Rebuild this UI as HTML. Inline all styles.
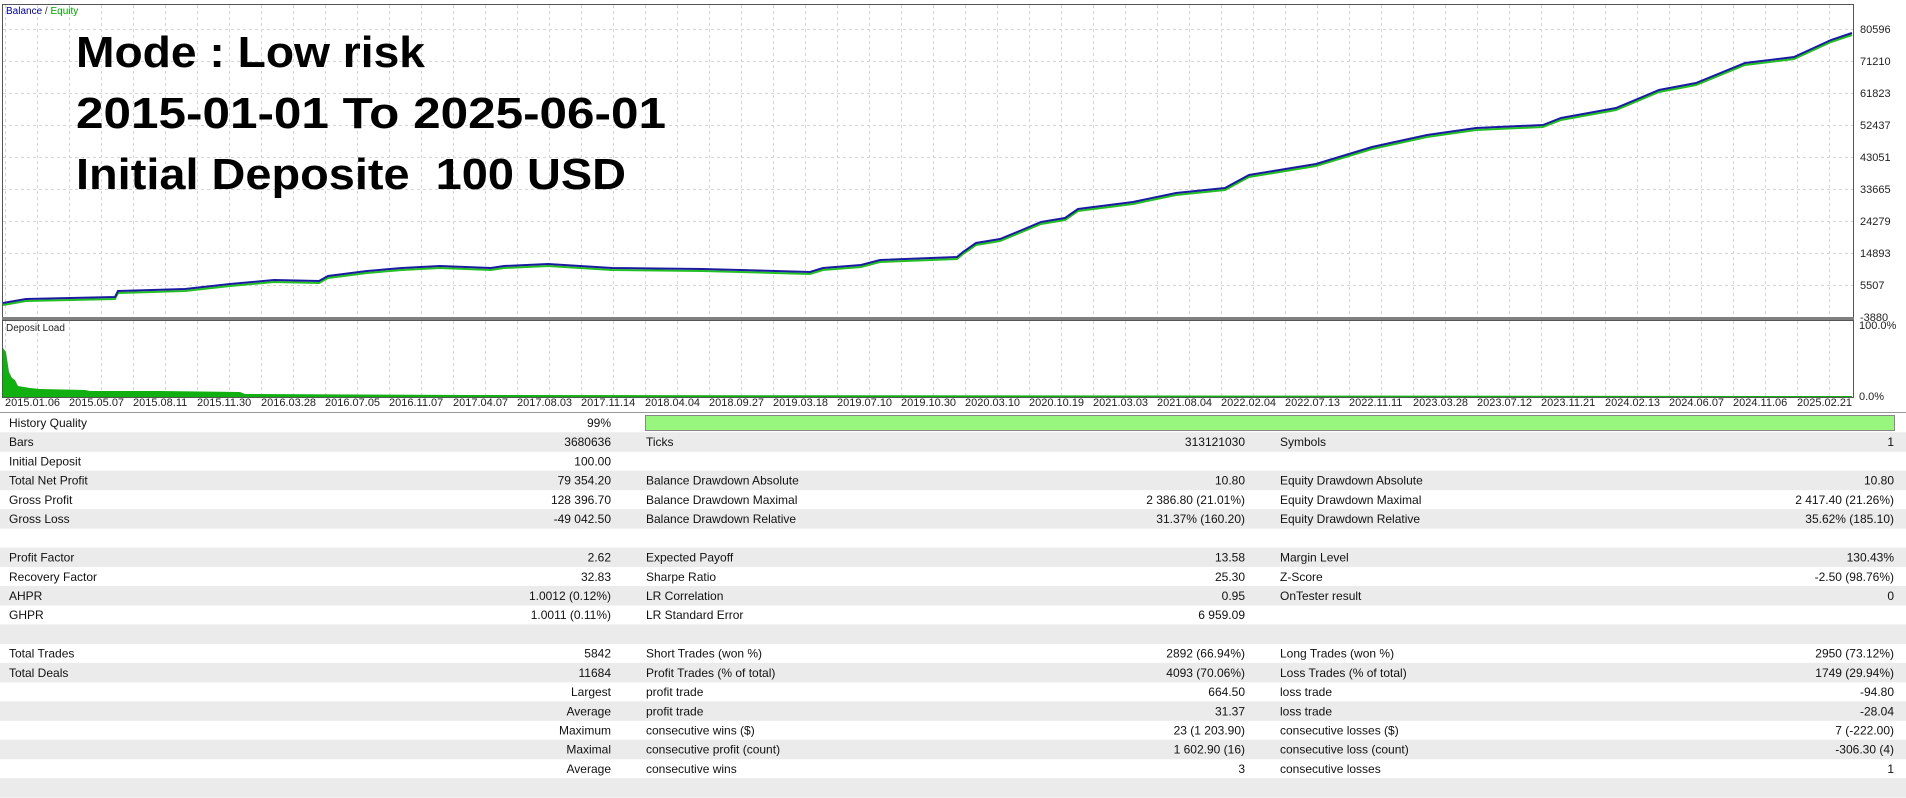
<!DOCTYPE html>
<html><head><meta charset="utf-8"><style>
body{margin:0;width:1906px;height:798px;overflow:hidden;background:#fff;font-family:"Liberation Sans",sans-serif}
svg{display:block}
</style></head><body>
<svg width="1906" height="798" viewBox="0 0 1906 798" xmlns="http://www.w3.org/2000/svg" font-family="Liberation Sans, sans-serif">
<rect width="1906" height="798" fill="#fff"/>
<g id="grid" stroke="#d4d4d4" stroke-dasharray="3,3" stroke-width="1"></g>
<rect x="2.5" y="4.5" width="1851" height="314" fill="none" stroke="#555"/>
<rect x="2.5" y="320.5" width="1851" height="77" fill="none" stroke="#555"/>
<rect x="2" y="317" width="1852" height="3" fill="#808080"/>
<text x="6" y="14" font-size="10"><tspan fill="#00008b">Balance</tspan><tspan fill="#333"> / </tspan><tspan fill="#00a000">Equity</tspan></text>
<text x="6" y="331" font-size="10" fill="#222">Deposit Load</text>
<g font-size="44" font-weight="bold" fill="#000">
<text x="76" y="67" textLength="349" lengthAdjust="spacingAndGlyphs">Mode : Low risk</text>
<text x="76" y="128" textLength="590" lengthAdjust="spacingAndGlyphs">2015-01-01 To 2025-06-01</text>
<text x="76" y="189" textLength="550" lengthAdjust="spacingAndGlyphs" xml:space="preserve">Initial Deposite  100 USD</text>
</g>
<g id="yl" font-size="11" fill="#222"></g>
<text x="1859" y="329" font-size="11" fill="#222">100.0%</text>
<text x="1859" y="400" font-size="11" fill="#222">0.0%</text>
<polyline fill="none" stroke="#22c022" stroke-width="2" points="3,305 26,301 115,299 118,293 185,291 230,286 274,282 319,283 328,278 367,273 402,270 440,268 491,270 504,268 548,266 612,270 702,271 740,272 810,274 823,270 861,267 880,262 957,259 963,254 976,245 1000,241 1022,232 1041,224 1065,220 1078,211 1133,204 1176,195 1225,190 1249,177 1316,166 1372,149 1427,137 1476,130 1543,127 1561,120 1616,110 1659,92 1696,85 1745,65 1794,59 1831,42 1852,35"/>
<polyline fill="none" stroke="#1a1aa0" stroke-width="2" points="3,303 26,299 115,297 118,291 185,289 230,284 274,280 319,281 328,276 367,271 402,268 440,266 491,268 504,266 548,264 612,268 702,269 740,270 810,272 823,268 861,265 880,260 957,257 963,252 976,243 1000,239 1022,230 1041,222 1065,218 1078,209 1133,202 1176,193 1225,188 1249,175 1316,164 1372,147 1427,135 1476,128 1543,125 1561,118 1616,108 1659,90 1696,83 1745,63 1794,57 1831,40 1852,33"/>
<path fill="#10b010" d="M3,397 L3,348 L6,352 L9,372 L12,378 L15,380 L18,386 L30,388 L40,389 L85,390 L90,391 L160,391 L240,392 L245,394 L470,395 L1852,396 L1852,397 Z"/>
<g id="dl" font-size="11" fill="#222"></g>
<line x1="0" y1="412.5" x2="1906" y2="412.5" stroke="#999"/>
<g id="tb" font-size="12" fill="#111"></g>
<rect x="645.5" y="415.5" width="1249" height="15" fill="#98f57e" stroke="#888"/>
</svg>
<script>
const NS="http://www.w3.org/2000/svg";
function el(t,a,txt,p){const e=document.createElementNS(NS,t);for(const k in a)e.setAttribute(k,a[k]);if(txt!==undefined)e.textContent=txt;document.getElementById(p).appendChild(e);return e;}
for(let x=5;x<1854;x+=32){el('line',{x1:x+.5,y1:5,x2:x+.5,y2:317},undefined,'grid');el('line',{x1:x+.5,y1:321,x2:x+.5,y2:397},undefined,'grid');}
const yv=["80596","71210","61823","52437","43051","33665","24279","14893","5507","-3880"];
yv.forEach((v,i)=>{const y=29+i*32;if(i<9)el('line',{x1:3,y1:y+.5,x2:1853,y2:y+.5},undefined,'grid');el('text',{x:1860,y:y+4},v,'yl');});
const d=["2015.01.06","2015.05.07","2015.08.11","2015.11.30","2016.03.28","2016.07.05","2016.11.07","2017.04.07","2017.08.03","2017.11.14","2018.04.04","2018.09.27","2019.03.18","2019.07.10","2019.10.30","2020.03.10","2020.10.19","2021.03.03","2021.08.04","2022.02.04","2022.07.13","2022.11.11","2023.03.28","2023.07.12","2023.11.21","2024.02.13","2024.06.07","2024.11.06","2025.02.21"];
d.forEach((s,i)=>el('text',{x:5+64*i,y:406},s,'dl'));
const rows=[
["History Quality","99%","","","",""],
["Bars","3680636","Ticks","313121030","Symbols","1"],
["Initial Deposit","100.00","","","",""],
["Total Net Profit","79 354.20","Balance Drawdown Absolute","10.80","Equity Drawdown Absolute","10.80"],
["Gross Profit","128 396.70","Balance Drawdown Maximal","2 386.80 (21.01%)","Equity Drawdown Maximal","2 417.40 (21.26%)"],
["Gross Loss","-49 042.50","Balance Drawdown Relative","31.37% (160.20)","Equity Drawdown Relative","35.62% (185.10)"],
["","","","","",""],
["Profit Factor","2.62","Expected Payoff","13.58","Margin Level","130.43%"],
["Recovery Factor","32.83","Sharpe Ratio","25.30","Z-Score","-2.50 (98.76%)"],
["AHPR","1.0012 (0.12%)","LR Correlation","0.95","OnTester result","0"],
["GHPR","1.0011 (0.11%)","LR Standard Error","6 959.09","",""],
["","","","","",""],
["Total Trades","5842","Short Trades (won %)","2892 (66.94%)","Long Trades (won %)","2950 (73.12%)"],
["Total Deals","11684","Profit Trades (% of total)","4093 (70.06%)","Loss Trades (% of total)","1749 (29.94%)"],
["@Largest","","profit trade","664.50","loss trade","-94.80"],
["@Average","","profit trade","31.37","loss trade","-28.04"],
["@Maximum","","consecutive wins ($)","23 (1 203.90)","consecutive losses ($)","7 (-222.00)"],
["@Maximal","","consecutive profit (count)","1 602.90 (16)","consecutive loss (count)","-306.30 (4)"],
["@Average","","consecutive wins","3","consecutive losses","1"],
["","","","","",""]];
const h=19.22;
rows.forEach((r,i)=>{const y=413+i*h;
 if(i%2==1)el('rect',{x:0,y:y,width:1906,height:h+0.3,fill:'#ebebeb'},undefined,'tb');
 const b=y+14;
 if(r[0].startsWith('@'))el('text',{x:611,y:b,'text-anchor':'end'},r[0].slice(1),'tb');
 else {el('text',{x:9,y:b},r[0],'tb');el('text',{x:611,y:b,'text-anchor':'end'},r[1],'tb');}
 el('text',{x:646,y:b},r[2],'tb');el('text',{x:1245,y:b,'text-anchor':'end'},r[3],'tb');
 el('text',{x:1280,y:b},r[4],'tb');el('text',{x:1894,y:b,'text-anchor':'end'},r[5],'tb');
});
</script>
</body></html>
